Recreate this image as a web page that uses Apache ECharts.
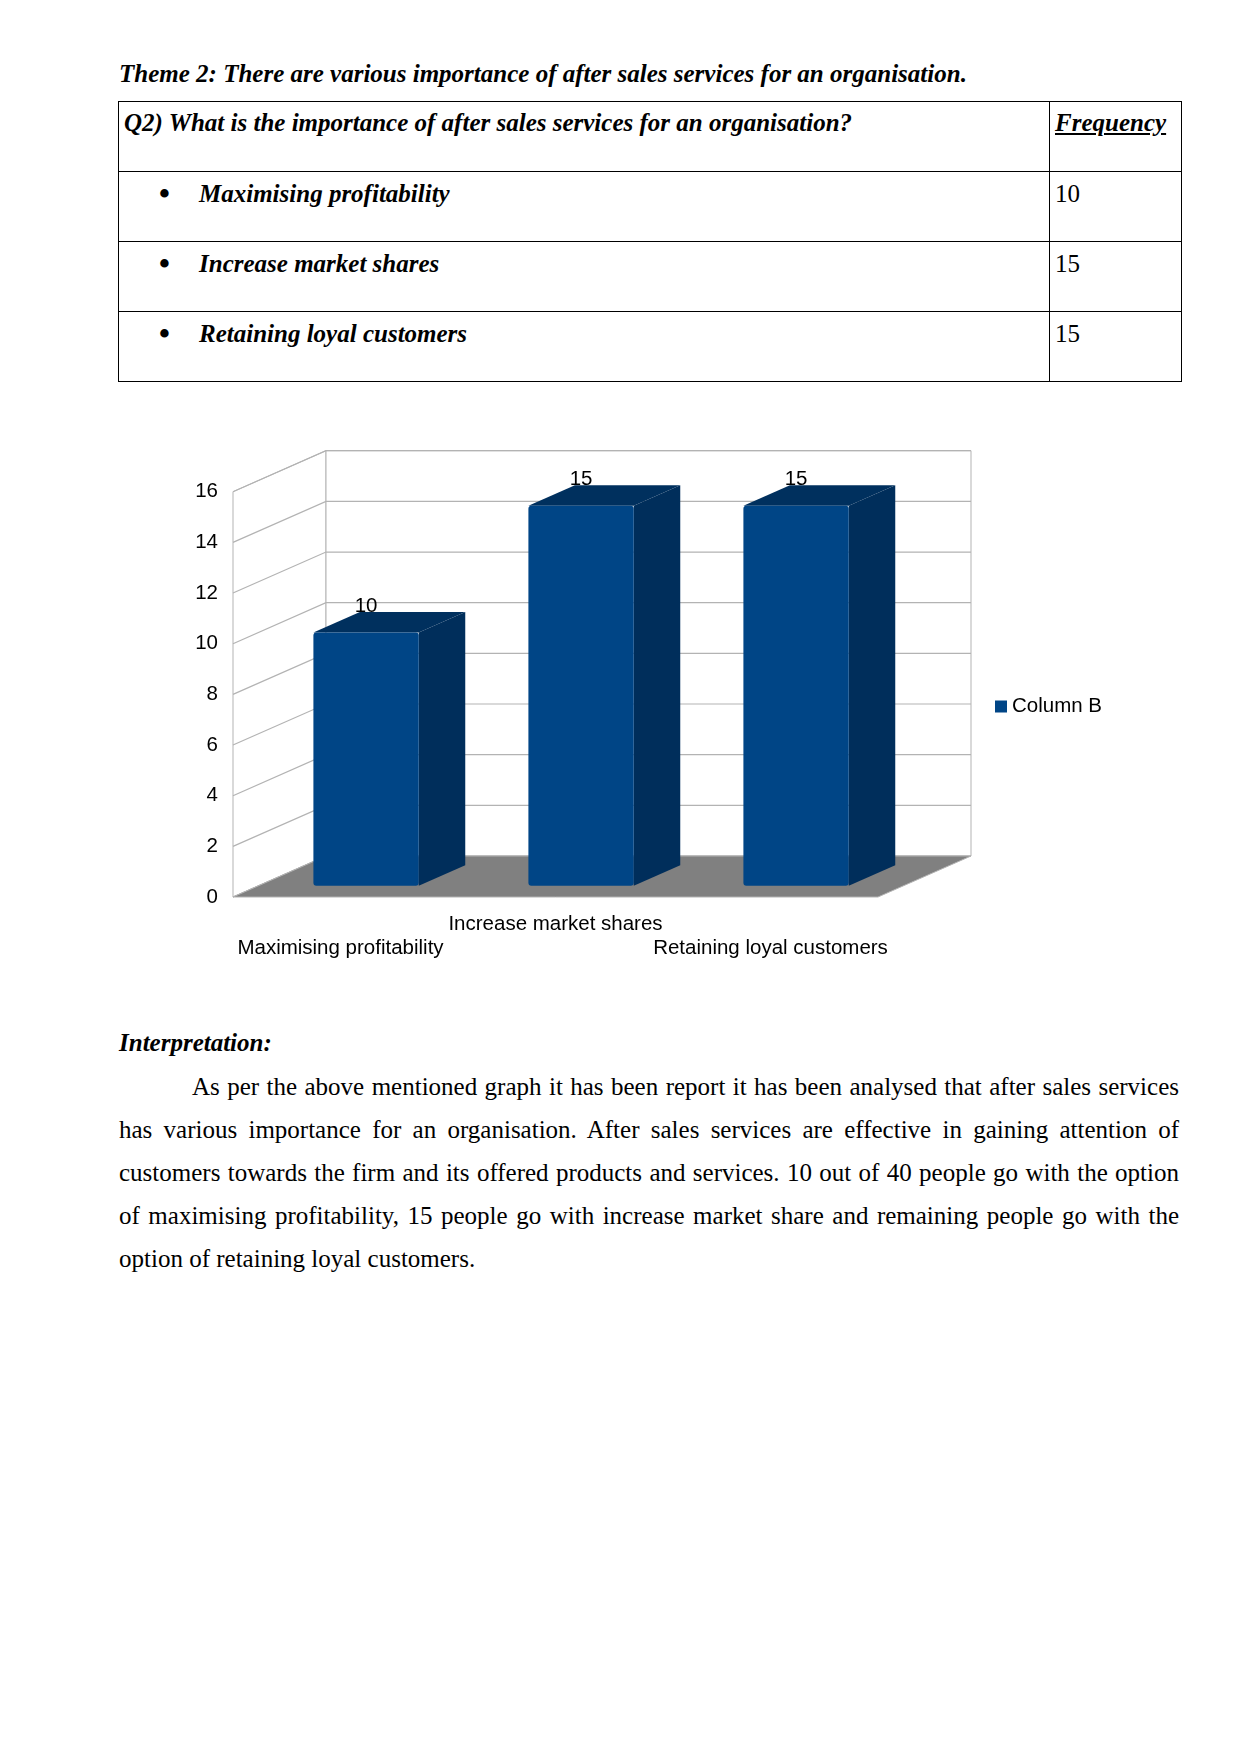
<!DOCTYPE html>
<html>
<head>
<meta charset="utf-8">
<script src="https://cdn.jsdelivr.net/npm/echarts@6/dist/echarts.min.js"></script>
<style>
  html, body { margin:0; padding:0; background:#fff; }
  body { width:1241px; height:1754px; position:relative; overflow:hidden;
         font-family:"Liberation Serif","Times New Roman",serif; font-size:25px; color:#000; }
  .t { position:absolute; line-height:30px; white-space:nowrap; }
  .bi { font-weight:bold; font-style:italic; }
  .bu { position:absolute; line-height:30px; font-size:31px; font-weight:bold; }
  .ln { position:absolute; background:#000; }
  .jl { position:absolute; line-height:30px; white-space:nowrap; text-align:justify; text-align-last:justify; }
  #chart { position:absolute; left:0; top:390px; width:1241px; height:600px; }
</style>
</head>
<body>
<div class="t bi" style="left:119px; top:59px;">Theme 2: There are various importance of after sales services for an organisation.</div>

<div style="position:absolute; left:118px; top:101px; width:1064px; height:281px; border:1px solid #000; box-sizing:border-box;"></div>
<div class="ln" style="left:118px; top:171px; width:1064px; height:1px;"></div>
<div class="ln" style="left:118px; top:241px; width:1064px; height:1px;"></div>
<div class="ln" style="left:118px; top:311px; width:1064px; height:1px;"></div>
<div class="ln" style="left:1049px; top:101px; width:1px; height:281px;"></div>

<div class="t bi" style="left:124px; top:108px;">Q2) What is the importance of after sales services for an organisation?</div>
<div class="t bi" style="left:1055px; top:108px; text-decoration:underline;">Frequency</div>

<div class="bu" style="left:159px; top:179px;">•</div>
<div class="t bi" style="left:199px; top:179px;">Maximising profitability</div>
<div class="t" style="left:1055px; top:179px;">10</div>

<div class="bu" style="left:159px; top:249px;">•</div>
<div class="t bi" style="left:199px; top:249px;">Increase market shares</div>
<div class="t" style="left:1055px; top:249px;">15</div>

<div class="bu" style="left:159px; top:319px;">•</div>
<div class="t bi" style="left:199px; top:319px;">Retaining loyal customers</div>
<div class="t" style="left:1055px; top:319px;">15</div>

<div id="chart"></div>

<div class="t bi" style="left:119px; top:1028px;">Interpretation:</div>
<div class="jl" style="left:192px; width:987px; top:1072px;">As per the above mentioned graph it has been report it has been analysed that after sales services</div>
<div class="jl" style="left:119px; width:1060px; top:1115px;">has various importance for an organisation. After sales services are effective in gaining attention of</div>
<div class="jl" style="left:119px; width:1060px; top:1158px;">customers towards the firm and its offered products and services. 10 out of 40 people go with the option</div>
<div class="jl" style="left:119px; width:1060px; top:1201px;">of maximising profitability, 15 people go with increase market share and remaining people go with the</div>
<div class="t" style="left:119px; top:1244px;">option of retaining loyal customers.</div>

<script>
const categories = ['Maximising profitability', 'Increase market shares', 'Retaining loyal customers'];
const values = [10, 15, 15];
const yTicks = [0, 2, 4, 6, 8, 10, 12, 14, 16];
const seriesName = 'Column B';

const DEPTH = [93, -41];
const BAR_FRONT = 0.275, BAR_BACK = 0.775, BAR_RATIO = 0.49;
const FRONT_COLOR = '#004586', SIDE_COLOR = '#002e5b', TOP_COLOR = '#00305e';
const GRID_COLOR = '#b3b3b3';
const FONT = '"Liberation Sans", Arial, sans-serif';
const FS = 20.5;

function renderWalls(params, api) {
  const cs = params.coordSys;
  const x0 = cs.x, x1 = cs.x + cs.width, yT = cs.y, yB = cs.y + cs.height;
  const dx = DEPTH[0], dy = DEPTH[1];
  const ch = [];
  ch.push({ type: 'polygon', shape: { points: [[x0, yB], [x0, yT], [x0 + dx, yT + dy], [x0 + dx, yB + dy]] },
            style: { fill: '#fff', stroke: GRID_COLOR, lineWidth: 1 } });
  ch.push({ type: 'polygon', shape: { points: [[x0 + dx, yB + dy], [x0 + dx, yT + dy], [x1 + dx, yT + dy], [x1 + dx, yB + dy]] },
            style: { fill: '#fff', stroke: GRID_COLOR, lineWidth: 1 } });
  yTicks.forEach(function (v) {
    const y = api.coord([0, v])[1];
    ch.push({ type: 'polyline', shape: { points: [[x0, y], [x0 + dx, y + dy], [x1 + dx, y + dy]] },
              style: { fill: null, stroke: GRID_COLOR, lineWidth: 1.2 } });
  });
  ch.push({ type: 'polygon', shape: { points: [[x0, yB], [x1, yB], [x1 + dx, yB + dy], [x0 + dx, yB + dy]] },
            style: { fill: '#808080', stroke: GRID_COLOR, lineWidth: 1 } });
  return { type: 'group', children: ch };
}

function renderBar(params, api) {
  const idx = api.value(0), v = api.value(1);
  const top = api.coord([idx, v]);
  const base = api.coord([idx, 0]);
  const w = api.size([1, 0])[0] * BAR_RATIO;
  const f = [DEPTH[0] * BAR_FRONT, DEPTH[1] * BAR_FRONT];
  const b = [DEPTH[0] * BAR_BACK, DEPTH[1] * BAR_BACK];
  const xl = top[0] - w / 2, xr = top[0] + w / 2;
  const yt = top[1], yb = base[1];
  return {
    type: 'group',
    children: [
      { type: 'polygon', shape: { points: [[xr + f[0], yt + f[1]], [xr + b[0], yt + b[1]], [xr + b[0], yb + b[1]], [xr + f[0], yb + f[1]]] },
        style: { fill: SIDE_COLOR } },
      { type: 'polygon', shape: { points: [[xl + f[0], yt + f[1]], [xl + b[0], yt + b[1]], [xr + b[0], yt + b[1]], [xr + f[0], yt + f[1]]] },
        style: { fill: TOP_COLOR } },
      { type: 'rect', shape: { x: xl + f[0], y: yt + f[1], width: w, height: yb - yt, r: 3 },
        style: { fill: FRONT_COLOR } },
      { type: 'text', x: top[0] + f[0], y: yt + b[1] + 5,
        style: { text: String(v), fill: '#000', font: FS + 'px ' + FONT, align: 'center', verticalAlign: 'bottom' } }
    ]
  };
}

const chart = echarts.init(document.getElementById('chart'), null, { renderer: 'canvas' });
chart.setOption({
  animation: false,
  color: [FRONT_COLOR],
  textStyle: { fontFamily: FONT },
  grid: { left: 233, top: 101.7, width: 645, height: 405.3 },
  legend: {
    left: 995, top: 306, padding: 0, icon: 'rect', itemWidth: 12, itemHeight: 12, itemGap: 10,
    textStyle: { fontSize: FS, color: '#000', fontFamily: FONT },
    data: [seriesName]
  },
  xAxis: {
    type: 'category', data: categories,
    axisLine: { show: false }, axisTick: { show: false }, splitLine: { show: false },
    axisLabel: {
      interval: 0, margin: 15, fontSize: FS, lineHeight: 24, color: '#000', fontFamily: FONT,
      formatter: function (val, i) { return i % 2 === 0 ? '\n' + val : val; }
    }
  },
  yAxis: {
    type: 'value', min: 0, max: 16, interval: 2,
    axisLine: { show: false }, axisTick: { show: false }, splitLine: { show: false },
    axisLabel: { margin: 15, fontSize: FS, color: '#000', fontFamily: FONT }
  },
  series: [
    { type: 'custom', name: 'walls', silent: true, renderItem: renderWalls, data: [[0, 0]], z: 1 },
    { type: 'custom', name: seriesName, renderItem: renderBar, itemStyle: { color: FRONT_COLOR },
      encode: { x: 0, y: 1 }, data: values.map(function (v, i) { return [i, v]; }), z: 2 }
  ]
});
</script>
</body>
</html>
